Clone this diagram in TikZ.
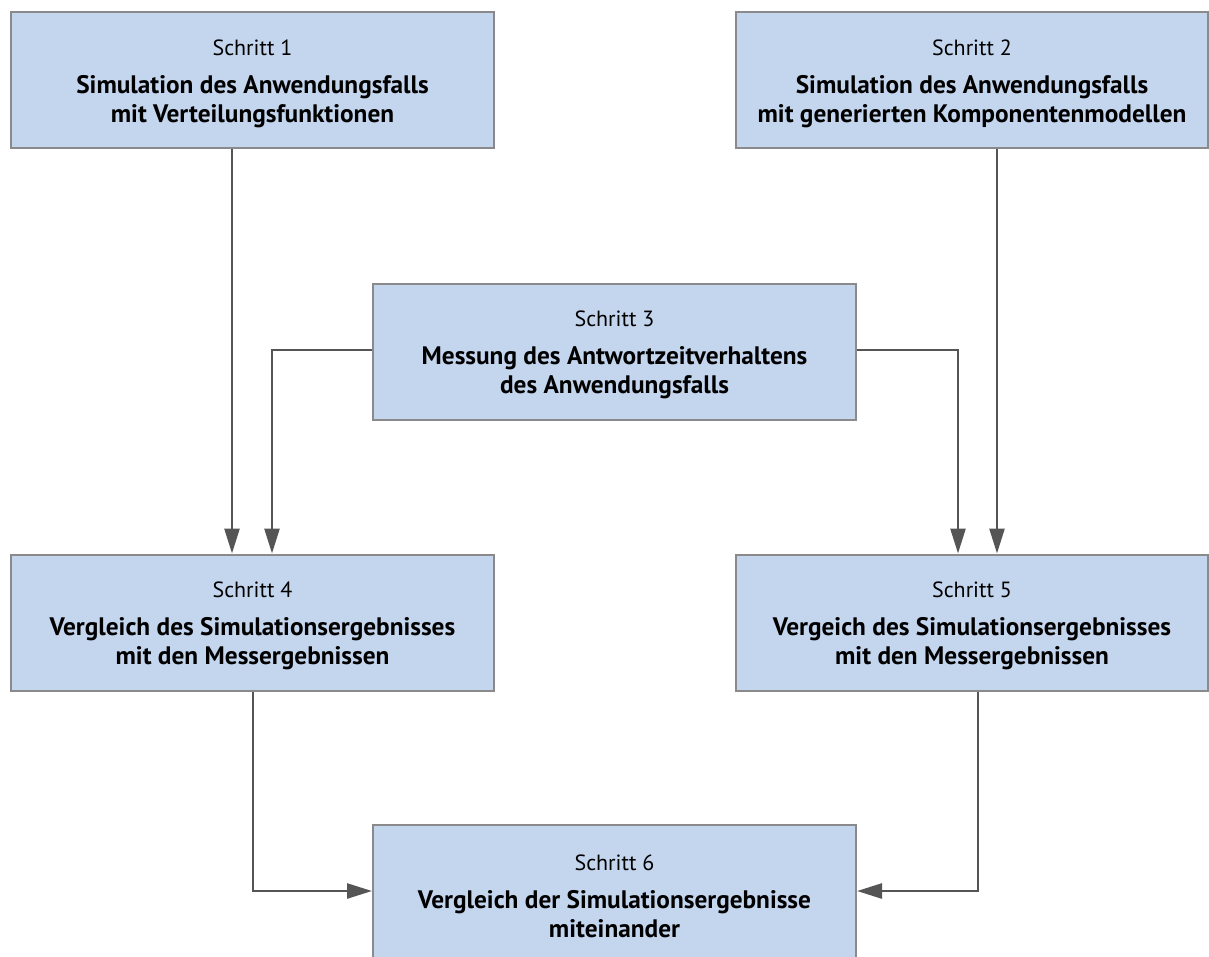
\documentclass[tikz,border=0pt]{standalone}
\usepackage{fontspec}
\setmainfont{PT Sans}
\usetikzlibrary{arrows.meta}
\definecolor{boxfill}{HTML}{C4D5EE}
\definecolor{boxline}{HTML}{8A8A8A}
\definecolor{flow}{HTML}{555555}
\begin{document}
\begin{tikzpicture}[x=1pt,y=-1pt,
  stepbox/.style={draw=boxline,line width=2pt,fill=boxfill,rectangle,
    minimum width=483pt,minimum height=136pt,inner sep=0pt},
  steptext/.style={inner sep=0pt,align=center,
    font=\fontsize{25.3}{29}\selectfont},
  flowline/.style={draw=flow,line width=2.6pt,
    -{Triangle[length=25pt,width=15pt]}}]
\useasboundingbox (0,0) rectangle (1209,956);
\newcommand{\stepcontent}[3]{{\fontsize{22}{29}\selectfont Schritt #1}\\[9pt]\textbf{#2}\\\textbf{#3}}
% boxes
\node[stepbox] (s1) at (252.5,80) {};
\node[stepbox,minimum width=472pt] (s2) at (972,80) {};
\node[stepbox] (s3) at (614.5,351.5) {};
\node[stepbox] (s4) at (252.5,622.5) {};
\node[stepbox,minimum width=472pt] (s5) at (972,622.5) {};
\node[stepbox] (s6) at (614.5,892.5) {};
% box texts
\node[steptext] (t1) at ([yshift=-3.5pt]s1.center) {\stepcontent{1}{Simulation des Anwendungsfalls}{mit Verteilungsfunktionen}};
\node[steptext] (t2) at ([yshift=-3.5pt]s2.center) {\stepcontent{2}{Simulation des Anwendungsfalls}{mit generierten Komponentenmodellen}};
\node[steptext] (t3) at ([yshift=-3.5pt]s3.center) {\stepcontent{3}{Messung des Antwortzeitverhaltens}{des Anwendungsfalls}};
\node[steptext] (t4) at ([yshift=-3.5pt]s4.center) {\stepcontent{4}{Vergleich des Simulationsergebnisses}{mit den Messergebnissen}};
\node[steptext] (t5) at ([yshift=-3.5pt]s5.center) {\stepcontent{5}{Vergeich des Simulationsergebnisses}{mit den Messergebnissen}};
\node[steptext] (t6) at ([yshift=-3.5pt]s6.center) {\stepcontent{6}{Vergleich der Simulationsergebnisse}{miteinander}};
% connectors
\draw[flowline] (s1.south -| 232,0) -- (s4.north -| 232,0);
\draw[flowline] (s2.south -| 997,0) -- (s5.north -| 997,0);
\draw[flowline] (s3.west |- 0,350) -| (s4.north -| 272,0);
\draw[flowline] (s3.east |- 0,350) -| (s5.north -| 958,0);
\draw[flowline] (s4.south -| 253,0) |- (s6.west |- 0,891);
\draw[flowline] (s5.south -| 978,0) |- (s6.east |- 0,891);
\end{tikzpicture}
\end{document}
